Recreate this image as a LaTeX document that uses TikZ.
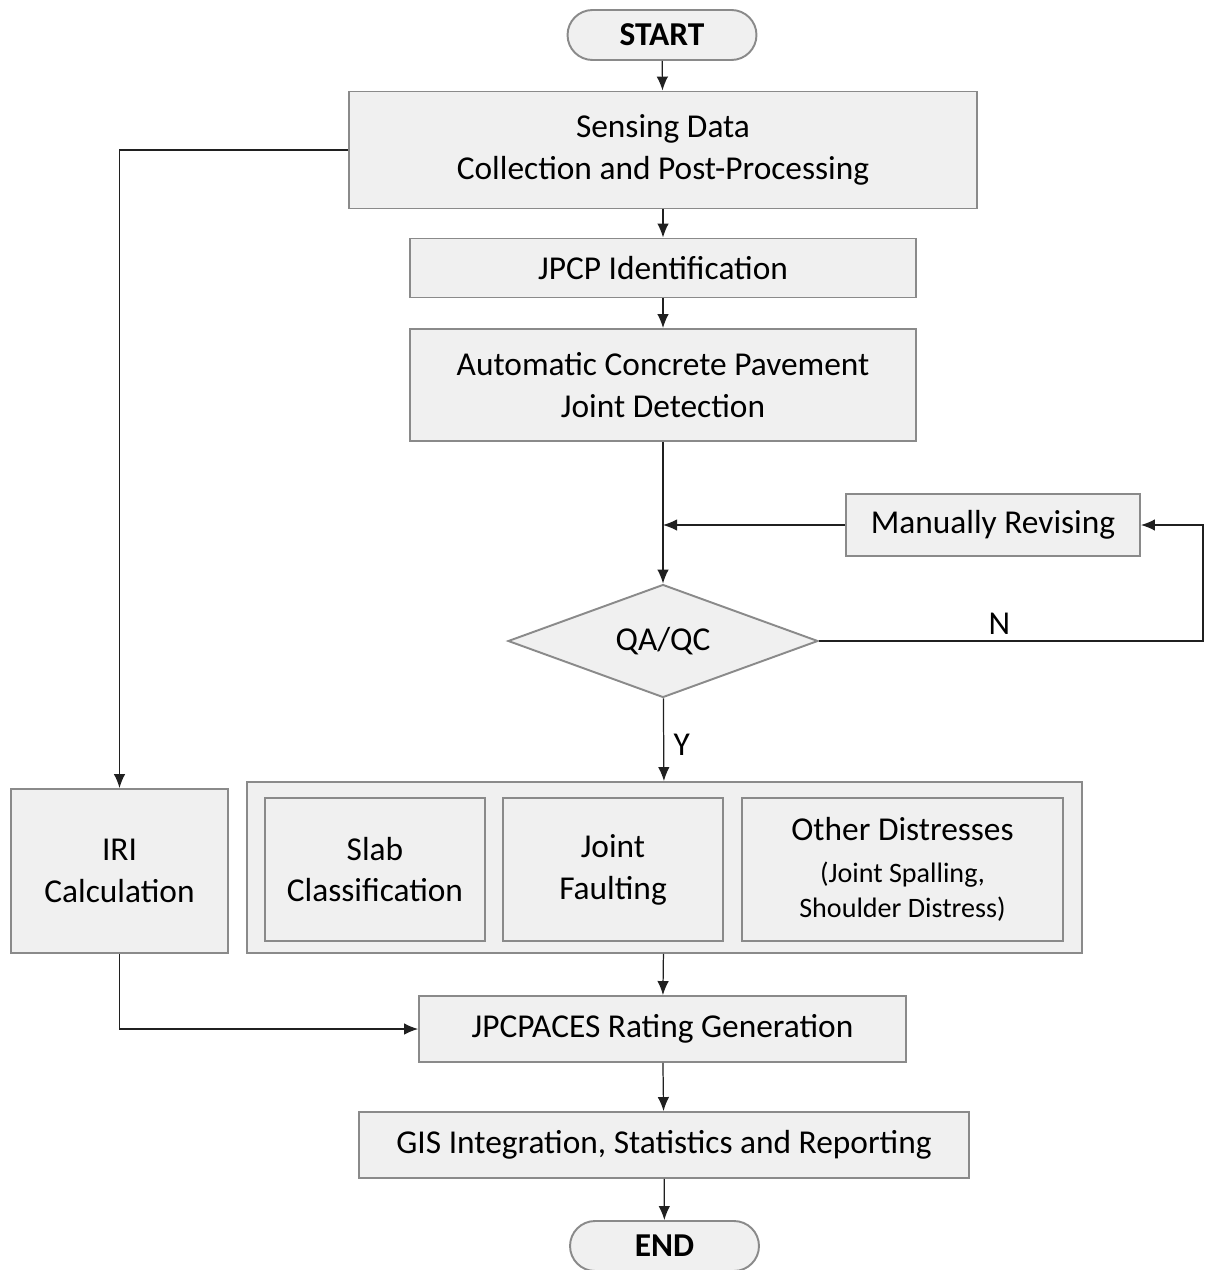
\documentclass[tikz,border=0pt]{standalone}
\usepackage{fontspec}
\setmainfont{Carlito}
\usetikzlibrary{shapes.geometric,arrows.meta}

\definecolor{boxfill}{HTML}{F0F0F0}
\definecolor{boxline}{HTML}{8A8A8A}
\definecolor{wire}{HTML}{202020}

\begin{document}
\begin{tikzpicture}[x=0.02cm, y=-0.02cm,
        every node/.style={font=\fontsize{19}{23.8}\selectfont, text=black},
        box/.style={draw=boxline, line width=1.1pt, fill=boxfill, align=center, inner sep=0pt},
        terminal/.style={box, rounded corners=0.5cm, minimum width=3.78cm, minimum height=1cm, font=\fontsize{19}{23.8}\selectfont\bfseries},
        decision/.style={box, diamond, aspect=2.7, minimum width=6.2cm, minimum height=2.26cm},
        arr/.style={draw=wire, line width=0.7pt, -{Latex[length=2.8mm,width=2.3mm]}}
    ]
        % Cornice
        \useasboundingbox (0,0) rectangle (1205,1270);

        % Blocchi principali
        \node[terminal] (start) at (662,35) {START};
        \node[box, minimum width=12.56cm, minimum height=2.34cm] (sensing) at (663,150) {Sensing Data\\Collection and Post-Processing};
        \node[box, minimum width=10.12cm, minimum height=1.18cm] (jpcp) at (663,268) {JPCP Identification};
        \node[box, minimum width=10.12cm, minimum height=2.24cm] (detect) at (663,385) {Automatic Concrete Pavement\\Joint Detection};
        \node[box, minimum width=5.88cm, minimum height=1.24cm] (manual) at (993,525) {Manually Revising};
        \node[decision] (qaqc) at (663,641) {QA/QC};

        % Gruppo dei difetti
        \node[box, minimum width=16.7cm, minimum height=3.42cm] (group) at (664.5,867.5) {};
        \node[box, minimum width=4.4cm, minimum height=2.86cm] (slab) at (375,869.5) {Slab\\Classification};
        \node[box, minimum width=4.4cm, minimum height=2.86cm] (fault) at (613,869.5) {Joint\\Faulting};
        \node[box, minimum width=6.42cm, minimum height=2.86cm] (other) at (902.5,869.5)
            {Other Distresses\\[0pt]{\fontsize{16}{19.8}\selectfont (Joint Spalling,}\\[-4pt]{\fontsize{16}{19.8}\selectfont Shoulder Distress)}};
        \node[box, minimum width=4.34cm, minimum height=3.28cm] (iri) at (119.5,871) {IRI\\Calculation};

        \node[box, minimum width=9.74cm, minimum height=1.32cm] (rating) at (662.5,1029) {JPCPACES Rating Generation};
        \node[box, minimum width=12.2cm, minimum height=1.32cm] (gis) at (664,1145) {GIS Integration, Statistics and Reporting};
        \node[terminal] (end) at (664.5,1246) {END};

        % Collegamenti
        \coordinate (nturn) at (1203,641);
        \draw[arr] (start) -- (sensing);
        \draw[arr] (sensing) -- (jpcp);
        \draw[arr] (jpcp) -- (detect);
        \draw[arr] (detect) -- (qaqc);
        \draw[arr] (manual.west) -- (detect.south |- manual.west);
        \draw[arr] (qaqc.east) -- node[above, pos=0.47] (nlbl) {N} (nturn) |- (manual.east);
        \draw[arr] (qaqc) -- node[right, xshift=2pt, yshift=-3pt] (ylbl) {Y} (group);
        \draw[arr] (sensing.west) -| (iri.north);
        \draw[arr] (group) -- (rating);
        \draw[arr] (iri.south) |- (rating.west);
        \draw[arr] (rating) -- (gis);
        \draw[arr] (gis) -- (end);
    \end{tikzpicture}
\end{document}
